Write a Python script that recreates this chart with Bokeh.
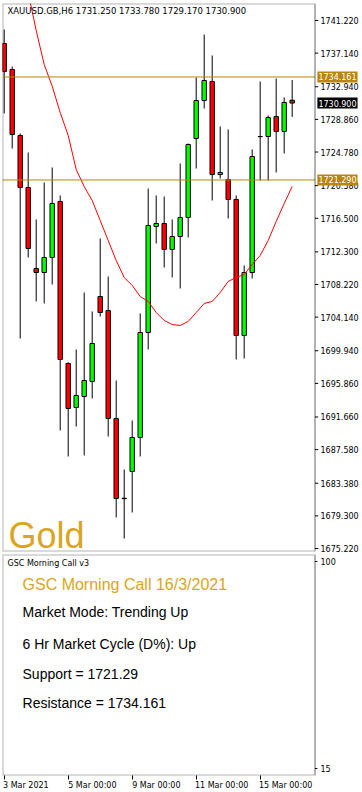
from bokeh.plotting import figure
from bokeh.layouts import column
from bokeh.models import FixedTicker, Label, NumeralTickFormatter, BoxAnnotation
from bokeh.embed import file_html
from bokeh.resources import INLINE

# ---------------- data ----------------
symbol_header = "XAUUSD.GB,H6  1731.250 1733.780 1729.170 1730.900"
idx = list(range(37))
opens = [1738.35, 1735.10, 1726.85, 1720.35, 1710.22, 1709.72, 1711.60, 1718.60, 1698.35, 1692.85,
         1694.22, 1696.10, 1706.72, 1704.97, 1691.47, 1681.50, 1684.85, 1689.10, 1702.22, 1715.47,
         1715.85, 1712.60, 1714.22, 1716.60, 1726.47, 1731.22, 1733.60, 1721.97, 1721.35, 1718.85,
         1701.85, 1709.72, 1726.72, 1726.72, 1729.22, 1727.35, 1731.25]
highs = [1740.10, 1735.47, 1727.10, 1724.72, 1716.35, 1720.97, 1722.85, 1719.35, 1698.50, 1700.10,
         1707.22, 1704.85, 1713.97, 1709.22, 1696.22, 1685.10, 1691.22, 1704.60, 1720.22, 1719.35,
         1719.22, 1716.35, 1723.35, 1725.85, 1734.10, 1739.47, 1736.85, 1727.97, 1727.60, 1719.35,
         1710.60, 1725.10, 1733.60, 1729.35, 1733.97, 1731.60, 1733.78]
lows = [1729.60, 1725.22, 1701.47, 1711.60, 1706.10, 1705.85, 1708.22, 1689.97, 1686.72, 1690.47,
        1686.85, 1693.97, 1704.22, 1689.22, 1679.10, 1676.47, 1679.72, 1686.72, 1700.10, 1713.35,
        1710.35, 1709.10, 1707.72, 1714.10, 1722.72, 1730.22, 1718.72, 1721.47, 1716.47, 1698.85,
        1698.97, 1708.97, 1721.22, 1721.22, 1722.22, 1724.60, 1729.17]
closes = [1734.85, 1726.97, 1720.35, 1712.72, 1709.72, 1711.60, 1718.35, 1698.85, 1692.72, 1694.35,
          1696.22, 1700.85, 1704.72, 1691.47, 1681.47, 1681.45, 1689.10, 1702.22, 1715.60, 1715.85,
          1712.60, 1714.22, 1716.60, 1725.72, 1731.22, 1733.72, 1721.97, 1722.22, 1718.85, 1701.85,
          1709.72, 1724.22, 1726.70, 1729.10, 1727.35, 1730.97, 1730.90]
ma_idx = list(range(2, 37))
ma_vals = [1749.30, 1744.72, 1739.97, 1735.72, 1733.00, 1729.72, 1726.85, 1722.60, 1720.47, 1718.72,
           1716.22, 1713.72, 1711.22, 1709.10, 1708.10, 1706.72, 1706.10, 1704.72, 1703.72, 1703.22,
           1703.10, 1703.60, 1704.72, 1705.85, 1706.10, 1707.22, 1708.60, 1709.10, 1709.47, 1710.72,
           1711.85, 1713.72, 1716.10, 1718.35, 1720.47]
price_ticks = [1741.220, 1737.140, 1732.940, 1728.860, 1724.780, 1720.580, 1716.500, 1712.300,
               1708.220, 1704.140, 1699.940, 1695.860, 1691.660, 1687.580, 1683.380, 1679.300, 1675.220]
resistance = 1734.161
support = 1721.29
last_price = 1730.900
x_tick_idx = [0, 8, 16, 24, 32]
x_tick_labels = ["3 Mar 2021", "5 Mar 00:00", "9 Mar 00:00", "11 Mar 00:00", "15 Mar 00:00"]
ind_ticks = [15, 100]
panel_name = "GSC Morning Call v3"
info_title = "GSC Morning Call 16/3/2021"
info_lines = ["Market Mode: Trending Up", "6 Hr Market Cycle (D%): Up",
              "Support = 1721.29", "Resistance = 1734.161"]
info_y = [79.1, 66.3, 54.0, 41.7]

# ---------------- style ----------------
GOLD = "#DAA520"
DGOLD = "#B8860B"
AXF = "DejaVu Sans"
X0, XE, XR = -0.2125, 38.85, 44.54    # plot start, candle-area end (frame edge), range end
label_pad = [1, 19, 19, 20, 20]       # no-break spaces that shift centred axis labels to the right


def style_right_axis(ax, ticks):
    ax.ticker = FixedTicker(ticks=ticks)
    ax.major_label_text_font = AXF
    ax.major_label_text_font_size = "8px"
    ax.major_label_text_color = "black"
    ax.major_tick_out = 0
    ax.major_tick_in = 0
    ax.minor_tick_out = 0
    ax.minor_tick_in = 0
    ax.axis_line_color = None
    ax.major_label_standoff = -40


# ---------------- main price panel ----------------
p = figure(frame_width=358, frame_height=548, x_range=(X0, XR), y_range=(1674.845, 1743.345),
           output_backend="svg", toolbar_location=None, y_axis_location="right", x_axis_location=None,
           min_border_left=2, min_border_right=2, min_border_top=3, min_border_bottom=3)
p.grid.visible = False
p.outline_line_color = None
style_right_axis(p.yaxis[0], price_ticks)
p.yaxis[0].formatter = NumeralTickFormatter(format="0.000")

tops = [max(o, c) for o, c in zip(opens, closes)]
bots = [min(o, c) for o, c in zip(opens, closes)]
cols = ["#FF0000" if c < o else "#00FF00" for o, c in zip(opens, closes)]

p.segment(x0=idx, y0=lows, x1=idx, y1=highs, line_color="black", line_width=1)
p.vbar(x=idx, width=0.55, top=tops, bottom=bots, fill_color=cols, line_color="black", line_width=1)
p.line(ma_idx, ma_vals, line_color="#FF0000", line_width=1)

levels = [resistance, support]
p.segment(x0=[X0] * 2, x1=[XE] * 2, y0=levels, y1=levels, line_color=DGOLD, line_width=1)
# small tick dashes just right of the frame edge
p.segment(x0=[XE] * len(price_ticks), x1=[XE + 0.4] * len(price_ticks), y0=price_ticks,
          y1=price_ticks, line_color="black", line_width=1)

p.add_layout(BoxAnnotation(left=X0, right=XE, fill_alpha=0, line_color="black", line_width=2))

p.add_layout(Label(x=0.41, y=1742.47, text=symbol_header, text_font=AXF, text_font_size="8.5px",
                   text_color="black", text_baseline="middle"))
p.add_layout(Label(x=0.54, y=1676.85, text="Gold", text_font="Liberation Sans",
                   text_font_size="36px", text_color=GOLD, text_baseline="alphabetic"))

for val, bg in [(resistance, DGOLD), (support, DGOLD), (last_price, "black")]:
    p.add_layout(Label(x=XE + 0.3, y=val, text=f"{val:.3f}", text_font=AXF,
                       text_font_size="8px", text_color="white", text_baseline="middle",
                       background_fill_color=bg, padding=(1, 2)))

# ---------------- indicator panel ----------------
q = figure(frame_width=358, frame_height=221, x_range=p.x_range, y_range=(12.13, 102.87),
           output_backend="svg", toolbar_location=None, y_axis_location="right",
           min_border_left=2, min_border_right=2, min_border_top=0, min_border_bottom=17)
q.grid.visible = False
q.outline_line_color = None
style_right_axis(q.yaxis[0], ind_ticks)
q.segment(x0=[XE] * 2, x1=[XE + 0.3] * 2, y0=ind_ticks, y1=ind_ticks, line_color="black", line_width=1)
q.add_layout(BoxAnnotation(left=X0, right=XE, fill_alpha=0, line_color="black", line_width=2))

qx = q.xaxis[0]
qx.ticker = FixedTicker(ticks=x_tick_idx)
qx.major_label_overrides = {k: "\u00a0" * n + v for k, v, n in zip(x_tick_idx, x_tick_labels, label_pad)}
qx.major_label_text_font = AXF
qx.major_label_text_font_size = "8px"
qx.major_label_text_color = "black"
qx.major_tick_out = 4
qx.major_tick_in = 0
qx.minor_tick_out = 0
qx.minor_tick_in = 0
qx.axis_line_color = None
qx.major_label_standoff = 1

q.add_layout(Label(x=0.41, y=99.2, text=panel_name, text_font=AXF, text_font_size="8px",
                   text_color="black", text_baseline="middle"))
q.add_layout(Label(x=2.29, y=90.6, text=info_title, text_font="Liberation Sans",
                   text_font_size="16px", text_color=GOLD, text_baseline="middle"))
for t, yy in zip(info_lines, info_y):
    q.add_layout(Label(x=2.29, y=yy, text=t, text_font="Liberation Sans",
                       text_font_size="14px", text_color="black", text_baseline="middle"))

layout = column(p, q, spacing=0)
open("out.html", "w").write(file_html(layout, INLINE))
